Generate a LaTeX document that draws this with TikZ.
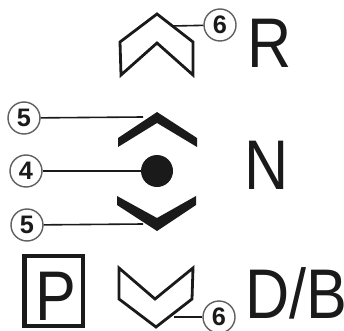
\documentclass[tikz,border=0pt]{standalone}
\usepackage{fontspec}
\setmainfont{Liberation Sans}
\usepackage{tikz}
\definecolor{chInk}{HTML}{1A1A1A}
\tikzset{
  callout/.style={circle, draw=chInk!70, line width=0.35mm, fill=white, minimum size=8mm, inner sep=0pt, font=\fontsize{18}{18}\selectfont\bfseries, text=chInk},
  leader/.style={draw=chInk, line width=0.4mm},
  bigletter/.style={inner sep=0pt, xscale=0.87, font=\fontsize{50}{50}\selectfont, text=chInk},
  outlinechev/.style={draw=chInk, line width=0.7mm, line join=miter, fill=white},
  solidchev/.style={fill=chInk}
}

\begin{document}
\begin{tikzpicture}[x=0.25mm, y=-0.25mm]
  \useasboundingbox (0,0) rectangle (344,330);
  % drive and reverse chevrons
  \draw[outlinechev] (120,42) -- (157,14) -- (193,42) -- (193,75) -- (157,43) -- (121,75) -- cycle;
  \draw[outlinechev] (119,268) -- (155,299) -- (193,268) -- (192,299) -- (156,327) -- (119,299) -- cycle;
  % neutral
  \fill[solidchev] (118,147) -- (118,138) -- (157,112) -- (197,138) -- (197,147) -- (157,123) -- cycle;
  \fill[solidchev] (117,196) -- (117,205) -- (157,231) -- (196,205) -- (196,196) -- (157,218) -- cycle;
  \node[circle, fill=chInk, minimum size=8mm, inner sep=0pt] (dot) at (157,171) {};
  % callouts
  \coordinate (revEdge) at (173,26);
  \coordinate (upEdge) at (143,117);
  \coordinate (downEdge) at (143,224);
  \coordinate (driveEdge) at (174,317);
  \node[callout] (six1) at (220,25) {6};
  \node[callout] (five1) at (24,118) {5};
  \node[callout] (four) at (26,171) {4};
  \node[callout] (five2) at (27,225) {5};
  \node[callout] (six2) at (219,317) {6};
  \draw[leader] (six1) -- (revEdge);
  \draw[leader] (five1) -- (upEdge);
  \draw[leader] (four) -- (dot);
  \draw[leader] (five2) -- (downEdge);
  \draw[leader] (six2) -- (driveEdge);
  % gear letters
  \node[bigletter, anchor=base west] (rLetter) at (247,68) {R};
  \node[bigletter, anchor=base west] (nLetter) at (244,189) {N};
  \node[bigletter, anchor=base west] (dbLetter) at (245,318) {D/B};
  \node[draw=chInk, line width=1.1mm, minimum width=14.6mm, minimum height=17.6mm, inner sep=0pt] (pBox) at (53.5,291) {};
  \node[bigletter, anchor=base] (pLetter) at (56,320) {P};
\end{tikzpicture}
\end{document}
